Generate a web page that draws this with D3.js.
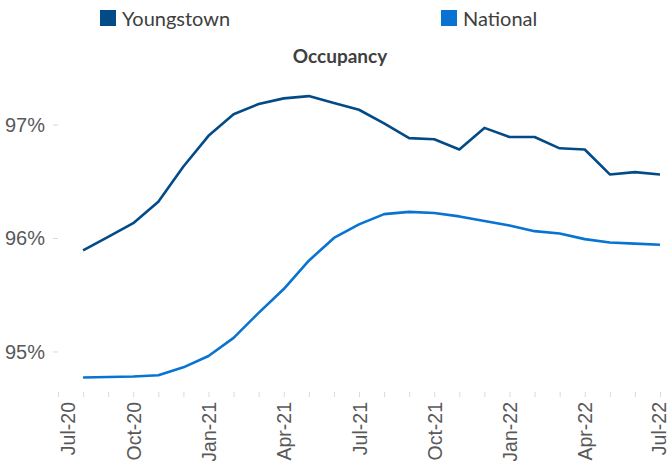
<!DOCTYPE html>
<html>
<head>
<meta charset="utf-8">
<script src="https://cdn.jsdelivr.net/npm/d3@7"></script>
<style>
  html, body { margin: 0; padding: 0; background: #fff; }
  svg { display: block; font-family: Lato, "Open Sans", sans-serif; }
</style>
</head>
<body>
<svg id="chart" width="668" height="461"></svg>
<script>
// Month labels, Jul-20 .. Jul-22 (index 0..24)
const months = ['Jul-20', 'Aug-20', 'Sep-20', 'Oct-20', 'Nov-20', 'Dec-20',
    'Jan-21', 'Feb-21', 'Mar-21', 'Apr-21', 'May-21', 'Jun-21',
    'Jul-21', 'Aug-21', 'Sep-21', 'Oct-21', 'Nov-21', 'Dec-21',
    'Jan-22', 'Feb-22', 'Mar-22', 'Apr-22', 'May-22', 'Jun-22', 'Jul-22'];

// Data runs from Aug-20 (index 1) to Jul-22 (index 24)
const youngstown = [95.89, 96.01, 96.13, 96.32, 96.63, 96.90, 97.09, 97.18, 97.23, 97.25,
    97.19, 97.13, 97.01, 96.88, 96.87, 96.78, 96.97, 96.89, 96.89, 96.79,
    96.78, 96.56, 96.58, 96.56];
const national = [94.77, 94.775, 94.78, 94.79, 94.86, 94.96, 95.12, 95.34, 95.55, 95.80,
    96.00, 96.12, 96.21, 96.23, 96.22, 96.19, 96.15, 96.11, 96.06, 96.04,
    95.99, 95.96, 95.95, 95.94];

const series = [
    { name: 'Youngstown', values: youngstown, color: '#034b87' },
    { name: 'National', values: national, color: '#0873d1' }
];

const yTicks = [95, 96, 97];
const labelEvery = 3;

const svg = d3.select('#chart');
const margin = { top: 80, right: 8, bottom: 68, left: 58 };
const width = 668, height = 461;

const x = d3.scaleLinear()
    .domain([0, months.length - 1])
    .range([margin.left, width - margin.right]);

// 1% of occupancy is about 113.5px tall; bottom of plot sits near 94.63%
const y = d3.scaleLinear()
    .domain([94.634, 97.392])
    .range([height - margin.bottom, margin.top]);

// Legend
const legendX = [100, 441];
series.forEach((s, i) => {
    const lg = svg.append('g').attr('transform', `translate(${legendX[i]},10)`);
    lg.append('rect')
        .attr('width', 16)
        .attr('height', 16)
        .attr('fill', s.color);
    lg.append('text')
        .attr('x', 22)
        .attr('y', 16)
        .style('font-size', '20px')
        .style('fill', '#404040')
        .text(s.name);
});

// Title
svg.append('text')
    .attr('x', 340)
    .attr('y', 63)
    .attr('text-anchor', 'middle')
    .style('font-size', '19px')
    .style('font-weight', 'bold')
    .style('fill', '#404040')
    .text('Occupancy');

// Y axis
const yAxis = svg.append('g')
    .attr('transform', `translate(${margin.left - 5},0)`)
    .call(d3.axisLeft(y)
        .tickValues(yTicks)
        .tickSize(-5)
        .tickPadding(8)
        .tickFormat(d => d + '%'));
yAxis.select('.domain').remove();
yAxis.selectAll('line').attr('stroke', '#d9d9d9');
yAxis.selectAll('text')
    .style('font-size', '20px')
    .style('fill', '#595959')
    .attr('dy', '0.35em');

// X axis - first and last labels nudged inward like the original
const lastIdx = months.length - 1;
const xAxis = svg.append('g')
    .attr('transform', `translate(0,${height - margin.bottom - 1})`)
    .call(d3.axisBottom(x)
        .tickValues(d3.range(months.length))
        .tickSize(5)
        .tickFormat(d => d % labelEvery === 0 ? months[d] : ''));
xAxis.select('.domain').remove();
xAxis.selectAll('line').attr('stroke', '#d9d9d9');
xAxis.selectAll('text')
    .style('font-size', '19.5px')
    .style('fill', '#595959')
    .attr('text-anchor', 'end')
    .attr('transform', d => {
        const dx = d === 0 ? 9 : (d === lastIdx ? -2 : 0);
        return `translate(${dx},10) rotate(-90)`;
    })
    .attr('x', 0)
    .attr('y', 0)
    .attr('dy', '0.36em');

// Lines
const line = d3.line()
    .x((d, i) => x(i + 1))
    .y(d => y(d));

series.forEach(s => {
    svg.append('path')
        .datum(s.values)
        .attr('fill', 'none')
        .attr('stroke', s.color)
        .attr('stroke-width', 2.6)
        .attr('stroke-linejoin', 'round')
        .attr('d', line);
});
</script>
</body>
</html>
